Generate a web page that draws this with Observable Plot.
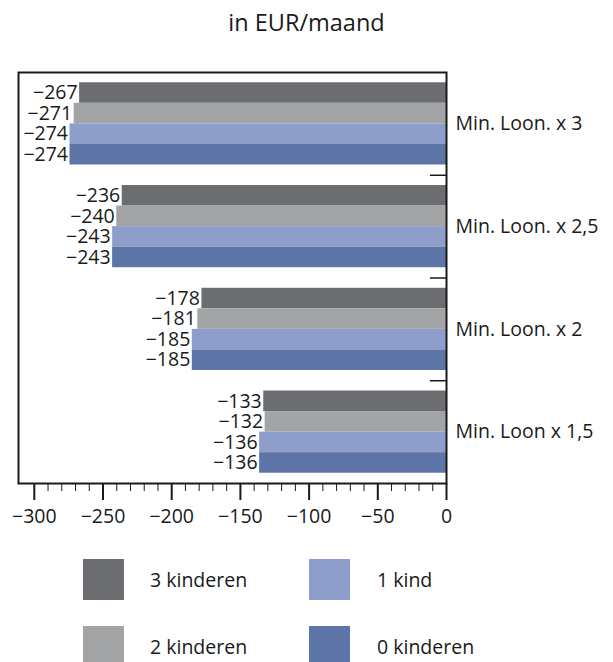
<!DOCTYPE html>
<html>
<head>
<meta charset="utf-8">
<script src="https://cdn.jsdelivr.net/npm/d3@7"></script>
<script src="https://cdn.jsdelivr.net/npm/@observablehq/plot@0.6"></script>
<style>
  html, body { margin: 0; padding: 0; background: #fff; }
  body { width: 613px; height: 662px; overflow: hidden; font-family: "Open Sans", sans-serif; color: #1a1a1a; }
  #title { height: 45px; line-height: 45px; text-align: center; font-size: 23.5px; }
  #legend { position: relative; height: 122px; font-size: 19.5px; }
  .sw { width: 41px; height: 41px; position: absolute; }
  .lab { position: absolute; white-space: nowrap; }
</style>
</head>
<body>
<div id="title">in EUR/maand</div>
<div id="chart"></div>
<div id="legend"></div>
<script>
const categories = ["Min. Loon. x 3", "Min. Loon. x 2,5", "Min. Loon. x 2", "Min. Loon x 1,5"];
const series = ["3 kinderen", "2 kinderen", "1 kind", "0 kinderen"];
const colors = ["#6c6d71", "#a3a4a6", "#8c9ec9", "#5c74a6"];
const values3 = [-267, -236, -178, -133];
const values2 = [-271, -240, -181, -132];
const values1 = [-274, -243, -185, -136];
const values0 = [-274, -243, -185, -136];
const xTicks = [-300, -250, -200, -150, -100, -50, 0];

const seriesValues = [values3, values2, values1, values0];
const key = (c, s) => c + "|" + s;
const data = [];
categories.forEach((c, i) => series.forEach((s, j) => data.push({cat: c, series: s, value: seriesValues[j][i], key: key(c, s)})));

// band domain: four bars per group, one empty band between groups
const yDomain = [];
const gaps = [];
categories.forEach((c, i) => {
  series.forEach(s => yDomain.push(key(c, s)));
  if (i < categories.length - 1) { const g = "gap" + i; gaps.push(g); yDomain.push(g); }
});

const fmt = v => String(v).replace("-", "\u2212");
const minorTicks = d3.range(-290, 0, 10).filter(v => v % 50 !== 0);

const chart = Plot.plot({
  width: 613,
  height: 495,
  marginTop: 27,
  marginBottom: 57,
  marginLeft: 18,
  marginRight: 167,
  style: {fontFamily: "Open Sans, sans-serif", fontSize: "19.5px", color: "#1a1a1a", background: "#fff"},
  x: {domain: [-311.5, 0], axis: null, label: null},
  y: {domain: yDomain, type: "band", padding: 0, paddingOuter: 0.5, round: false, axis: null},
  color: {domain: series, range: colors},
  marks: [
    Plot.barX(data, {x1: 0, x2: "value", y: "key", fill: "series"}),
    Plot.text(data, {x: "value", y: "key", text: d => fmt(d.value), textAnchor: "end", dx: -2, fill: "#1a1a1a"}),
    Plot.text(categories, {x: 0, y: c => key(c, series[2]), text: d => d, textAnchor: "start", dx: 9, dy: -10.3, fill: "#1a1a1a"}),
    Plot.ruleY(gaps, {y: d => d, x1: -11.7, x2: 0, stroke: "#1a1a1a", strokeWidth: 1.5}),
    Plot.frame({stroke: "#1a1a1a", strokeWidth: 2}),
    Plot.axisX({ticks: minorTicks, tickSize: 8, text: null, label: null, stroke: "#1a1a1a", strokeWidth: 1}),
    Plot.axisX({ticks: xTicks, tickSize: 17, tickPadding: 9, tickFormat: fmt, label: null, stroke: "#1a1a1a", strokeWidth: 2, fill: "#1a1a1a", fontSize: 19.5})
  ]
});
document.getElementById("chart").appendChild(chart);

// legend
const legend = document.getElementById("legend");
const pos = [
  {left: 83, top: 19, text: 150}, {left: 309, top: 19, text: 377},
  {left: 83, top: 86, text: 150}, {left: 309, top: 86, text: 377}
];
const legendOrder = [0, 2, 1, 3];
legendOrder.forEach((si, k) => {
  const p = pos[k];
  const sw = document.createElement("div");
  sw.className = "sw";
  sw.style.left = p.left + "px";
  sw.style.top = p.top + "px";
  sw.style.background = colors[si];
  legend.appendChild(sw);
  const lab = document.createElement("div");
  lab.className = "lab";
  lab.style.left = p.text + "px";
  lab.style.top = p.top + "px";
  lab.style.height = "41px";
  lab.style.lineHeight = "41px";
  lab.textContent = series[si];
  legend.appendChild(lab);
});
</script>
</body>
</html>
